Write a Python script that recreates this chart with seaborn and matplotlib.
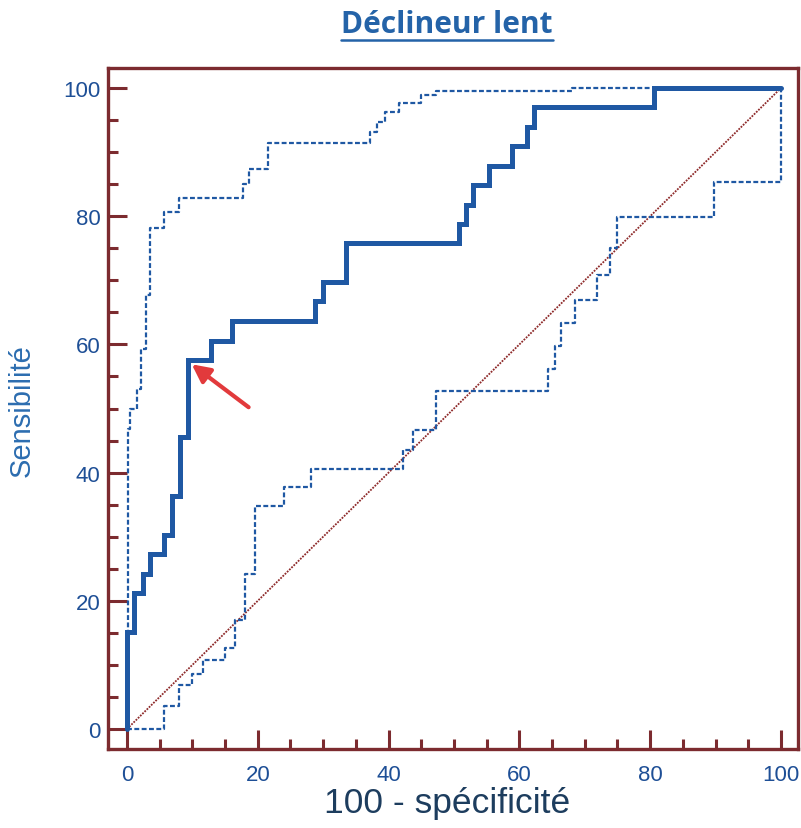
import numpy as np
import pandas as pd
import matplotlib
matplotlib.use("Agg")
import matplotlib.pyplot as plt
import seaborn as sns
from matplotlib.lines import Line2D
from matplotlib.ticker import MultipleLocator

# ---- data ----
roc_fpr = [0, 0, 1.1, 2.4, 3.5, 5.7, 6.9, 8.1, 9.4, 12.8, 16.1, 28.8, 30.0, 33.5,
           50.7, 51.9, 52.9, 55.4, 58.9, 61.2, 62.3, 80.6, 100]
roc_sens = [0, 15.2, 21.2, 24.2, 27.3, 30.3, 36.4, 45.5, 57.6, 60.6, 63.6, 66.7, 69.7, 75.8,
            78.8, 81.8, 84.8, 87.9, 90.9, 93.9, 97.0, 100, 100]

upper_fpr = [0, 0.2, 0.5, 1.5, 2.1, 2.9, 3.5, 5.7, 8.0, 17.7, 18.7, 21.6, 37.1, 38.2,
             39.4, 41.6, 45.0, 47.3, 68.0, 100]
upper_sens = [0, 46.8, 50.0, 53.1, 59.3, 67.7, 78.1, 80.6, 82.8, 85.0, 87.4, 91.4, 93.2, 94.7,
              96.3, 97.7, 98.9, 99.6, 100, 100]

lower_fpr = [0, 5.7, 8.0, 9.9, 11.7, 15.0, 16.5, 18.1, 19.5, 24.0, 28.1, 42.2, 43.7, 47.2,
             64.4, 65.4, 66.3, 68.5, 71.8, 73.9, 75.0, 89.8, 100]
lower_sens = [0, 3.6, 6.8, 8.6, 10.7, 12.6, 17.0, 24.2, 34.8, 37.7, 40.6, 43.5, 46.6, 52.8,
              56.1, 59.8, 63.3, 66.9, 70.8, 75.0, 79.8, 85.4, 100]

diag = [0, 100]
optimal_point = (9.9, 56.9)
arrow_tail = (18.6, 50.2)

tick_values = [0, 20, 40, 60, 80, 100]
title_text = "Déclineur lent"
xlabel_text = "100 - spécificité"
ylabel_text = "Sensibilité"

# ---- style ----
sns.set_theme(style="white")
plt.rcParams["font.family"] = ["Liberation Sans", "DejaVu Sans"]

frame_col = "#7c2b2f"
blue = "#1f58a3"
tick_col = "#1e4f96"

W, H = 801, 829
fig = plt.figure(figsize=(W / 100, H / 100), dpi=100)
ax = fig.add_axes([108 / W, 1 - 749.5 / H, (798 - 108) / W, (749.5 - 68.5) / H])

df_roc = pd.DataFrame({"fpr": roc_fpr, "sens": roc_sens})
df_up = pd.DataFrame({"fpr": upper_fpr, "sens": upper_sens})
df_lo = pd.DataFrame({"fpr": lower_fpr, "sens": lower_sens})

sns.lineplot(x=diag, y=diag, ax=ax, color="#8e2a2a", lw=1.3,
             linestyle=(0, (1, 0.7)), estimator=None, sort=False, zorder=2)
for d in (df_up, df_lo):
    sns.lineplot(data=d, x="fpr", y="sens", ax=ax, color=blue, lw=1.6,
                 linestyle=(0, (2.2, 1.1)), drawstyle="steps-post",
                 estimator=None, sort=False, zorder=3)
sns.lineplot(data=df_roc, x="fpr", y="sens", ax=ax, color=blue, lw=3.6,
             drawstyle="steps-post", estimator=None, sort=False, zorder=4,
             solid_joinstyle="miter")

ax.annotate("", xy=optimal_point, xytext=arrow_tail,
            arrowprops=dict(arrowstyle="-|>,head_length=0.9,head_width=0.45",
                            color="#e23a3c", lw=3, shrinkA=0, shrinkB=0),
            zorder=5)

ax.set_xlim(-2.9, 102.6)
ax.set_ylim(-3.04, 103.2)

for s in ax.spines.values():
    s.set_color(frame_col)
    s.set_linewidth(2.4)
    s.set_visible(True)

ax.xaxis.set_major_locator(MultipleLocator(20))
ax.xaxis.set_minor_locator(MultipleLocator(5))
ax.yaxis.set_major_locator(MultipleLocator(20))
ax.yaxis.set_minor_locator(MultipleLocator(5))
ax.set_xticks(tick_values)
ax.set_yticks(tick_values)
ax.set_xticklabels([str(v) for v in tick_values])
ax.set_yticklabels([str(v) for v in tick_values])

ax.tick_params(which="major", direction="in", length=14, width=2.2, color=frame_col,
               labelsize=16, labelcolor=tick_col, bottom=True, left=True)
ax.tick_params(axis="x", which="major", pad=11)
ax.tick_params(axis="y", which="major", pad=5.5)
ax.tick_params(which="minor", direction="in", length=7, width=2.2, color=frame_col,
               bottom=True, left=True)
ax.grid(False)

ax.set_xlabel(xlabel_text, fontsize=25.5, color="#1d3d5e")
ax.set_ylabel(ylabel_text, fontsize=21, color="#2c6db0")
ax.xaxis.label.set(va="center", ha="center")
ax.yaxis.label.set(va="center", ha="center")
ax.xaxis.set_label_coords(0.492, -0.0786)
ax.yaxis.set_label_coords(-0.1246, 0.497)

t = fig.text(447 / W, 1 - 25 / H, title_text, ha="center", va="center",
             fontsize=21.5, fontweight="bold", color="#2463a8",
             family=["Open Sans", "DejaVu Sans"])
fig.canvas.draw()
bb = t.get_window_extent(fig.canvas.get_renderer()).transformed(fig.transFigure.inverted())
yline = 1 - 41 / H
fig.add_artist(Line2D([bb.x0, bb.x1], [yline, yline], transform=fig.transFigure,
                      color="#2463a8", lw=1.8))

fig.savefig("out.png", dpi=100)
